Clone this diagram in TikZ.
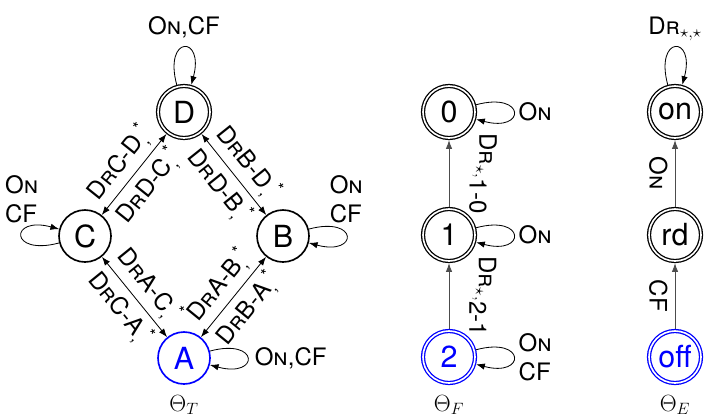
\documentclass[tikz,border=0pt]{standalone}
\usepackage{fix-cm}
\usepackage{fontspec}
\setmainfont{TeX Gyre Heros}
\usetikzlibrary{arrows.meta, positioning}
\newcommand{\Dr}{D\textsc{r}}
\newcommand{\On}{O\textsc{n}}
\tikzset{
  st/.style={draw, circle, line width=1.4pt, minimum size=1.56cm, inner sep=0pt, font=\fontsize{26}{28}\selectfont},
  acc/.style={st, double, line width=1.1pt, double distance=1.4pt, outer sep=1.8pt},
  ini/.style={draw=blue, text=blue},
  lbl/.style={font=\fontsize{20.5}{24.5}\selectfont, inner sep=1pt},
  vlbl/.style={lbl, rotate=-90},
  theta/.style={font=\fontsize{20}{22}\selectfont},
  arr/.style={-{Latex[length=2.6mm, width=1.9mm]}, line width=0.7pt},
  biarr/.style={{Latex[length=2.6mm, width=1.9mm]}-{Latex[length=2.6mm, width=1.9mm]}, line width=0.7pt},
  garr/.style={arr, draw=black!70},
  loopy/.style={arr, looseness=1, min distance=1.55cm},
}
\begin{document}
\begin{tikzpicture}[x=0.03cm, y=-0.03cm]
  \useasboundingbox (0,0) rectangle (706,417);
  % Theta_T
  \node[acc] (D) at (184,112) {D};
  \node[st] (C) at (85,236) {C};
  \node[st] (B) at (283,236) {B};
  \node[st, ini] (A) at (184,358) {A};
  \node[theta] (tT) at (184,405) {$\Theta_T$};
  \draw[biarr] (C) -- node[lbl, sloped, above=3pt] {\Dr C-D\textsubscript{,}\textsuperscript{*}}
    node[lbl, sloped, below=3pt] {\Dr D-C\textsubscript{,}\textsuperscript{*}} (D);
  \draw[biarr] (D) -- node[lbl, sloped, above=3pt] {\Dr B-D\textsubscript{,}\textsuperscript{*}}
    node[lbl, sloped, below=3pt] {\Dr D-B\textsubscript{,}\textsuperscript{*}} (B);
  \draw[biarr] (C) -- node[lbl, sloped, above=3pt] {\Dr A-C\textsubscript{,}\textsuperscript{*}}
    node[lbl, sloped, below=3pt] {\Dr C-A\textsubscript{,}\textsuperscript{*}} (A);
  \draw[biarr] (A) -- node[lbl, sloped, above=3pt] {\Dr A-B\textsubscript{,}\textsuperscript{*}}
    node[lbl, sloped, below=3pt] {\Dr B-A\textsubscript{,}\textsuperscript{*}} (B);
  \draw[loopy] (D) to[out=105, in=75] node[lbl, above=7pt] {\On,CF} (D);
  \draw[loopy] (C) to[out=195, in=165] node[lbl, above=10pt, align=left] {\On\\CF} (C);
  \draw[loopy] (B) to[out=15, in=-15] node[lbl, above=10pt, align=left] {\On\\CF} (B);
  \draw[loopy] (A) to[out=15, in=-15] node[lbl, right=5pt] {\On,CF} (A);
  % Theta_F
  \node[acc] (n0) at (449,112) {0};
  \node[acc] (n1) at (449,235) {1};
  \node[acc, ini] (n2) at (449,357) {2};
  \node[theta] (tF) at (449,405) {$\Theta_F$};
  \draw[garr] (n1) -- node[vlbl, anchor=south, inner ysep=17pt] {\Dr$_{\star,}$\raisebox{-0.4em}{1-0}} (n0);
  \draw[garr] (n2) -- node[vlbl, anchor=south, inner ysep=17pt] {\Dr$_{\star,}$\raisebox{-0.4em}{2-1}} (n1);
  \draw[loopy] (n0) to[out=15, in=-15] node[lbl, right=3pt] {\On} (n0);
  \draw[loopy] (n1) to[out=15, in=-15] node[lbl, right=3pt] {\On} (n1);
  \draw[loopy] (n2) to[out=15, in=-15] node[lbl, right=3pt, align=left] {\On\\CF} (n2);
  % Theta_E
  \node[acc] (on) at (675,112) {on};
  \node[acc] (rd) at (675,235) {rd};
  \node[acc, ini] (off) at (675,357) {off};
  \node[theta] (tE) at (675,405) {$\Theta_E$};
  \draw[garr] (rd) -- node[vlbl, anchor=north, inner ysep=6pt] {\On} (on);
  \draw[garr] (off) -- node[vlbl, anchor=north, inner ysep=6pt] {CF} (rd);
  \draw[loopy] (on) to[out=105, in=75] node[lbl, above=4pt] {\Dr$_{\star,\star}$} (on);
\end{tikzpicture}
\end{document}
